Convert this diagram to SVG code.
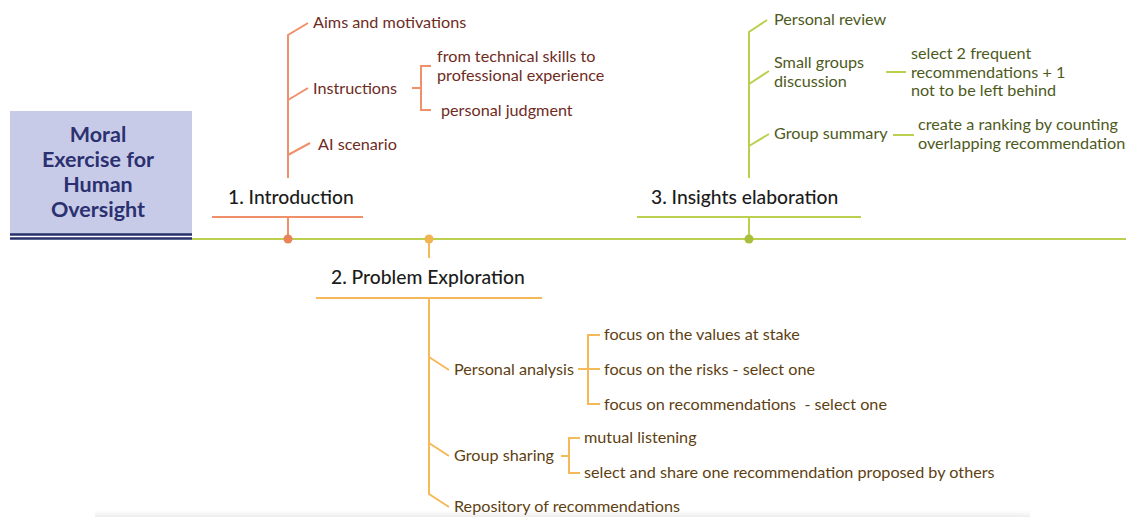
<svg xmlns="http://www.w3.org/2000/svg" width="1126" height="517" viewBox="0 0 1126 517">
<defs>
<style>
text{font-family:Lato,"Noto Sans",sans-serif;font-size:16.2px}
.h{font-size:19.3px;font-weight:500;fill:#1c1c1c}
.t1{fill:#6e2b1e}
.t2{fill:#5e3f12}
.t3{fill:#4d5a1c}
.l1{stroke:#f0906a;stroke-width:2;fill:none}
.l2{stroke:#f5b95a;stroke-width:2;fill:none}
.l3{stroke:#bccf4f;stroke-width:2;fill:none}
.title{font-size:21.5px;font-weight:700;fill:#2b3170;text-anchor:middle}
</style>
<linearGradient id="shade" x1="0" y1="0" x2="0" y2="1">
<stop offset="0" stop-color="#f4f4f4" stop-opacity="0"/>
<stop offset="1" stop-color="#ececec"/>
</linearGradient>
</defs>
<rect width="1126" height="517" fill="#ffffff"/>
<rect x="95" y="510" width="935" height="7" fill="url(#shade)"/>

<g id="connectors">
<line x1="192" y1="239" x2="1126" y2="239" class="l3"/>
<path class="l1" d="M212 217H363M288 217V239M288 178V35L308 23M288 100L308 88M288 155L310 143"/>
<path class="l1" d="M412 88H421M431 66H421V110H431"/>
<path class="l2" d="M429 239V258M316 298H542M429 298V494L449 507M429 357L449 370M429 443L449 456"/>
<path class="l2" d="M578 369H600M600 335H588V404H600"/>
<path class="l2" d="M561 456H569M580 438H569V473H580"/>
<path class="l3" d="M637 217H861M749 217V239M749 178V32L767 20M749 84L769 71M749 146L769 134"/>
<path class="l3" d="M886 72H906M893 135H914"/>
</g>

<g id="title">
<rect x="10" y="111" width="182" height="123" fill="#c8cbe8"/>
<line x1="10" y1="234.5" x2="192" y2="234.5" stroke="#27306a" stroke-width="2.5"/>
<line x1="10" y1="238.5" x2="192" y2="238.5" stroke="#27306a" stroke-width="2.5"/>
<text class="title" x="98" y="142">Moral</text>
<text class="title" x="98" y="167">Exercise for</text>
<text class="title" x="98" y="192">Human</text>
<text class="title" x="98" y="217">Oversight</text>
</g>

<g id="n1-introduction">
<circle cx="288" cy="239" r="4.5" fill="#e8845a"/>
<text class="h" x="228" y="204">1. Introduction</text>
</g>
<g id="n1a"><text class="t1" x="313" y="28">Aims and motivations</text></g>
<g id="n1b"><text class="t1" x="313" y="94">Instructions</text></g>
<g id="n1b1"><text class="t1" x="437" y="62">from technical skills to</text><text class="t1" x="437" y="81">professional experience</text></g>
<g id="n1b2"><text class="t1" x="441" y="116">personal judgment</text></g>
<g id="n1c"><text class="t1" x="318" y="150">AI scenario</text></g>

<g id="n2-problem">
<circle cx="429" cy="239" r="4.5" fill="#f0b552"/>
<text class="h" x="331" y="284">2. Problem Exploration</text>
</g>
<g id="n2a"><text class="t2" x="454" y="375">Personal analysis</text></g>
<g id="n2a1"><text class="t2" x="604" y="340">focus on the values at stake</text></g>
<g id="n2a2"><text class="t2" x="604" y="375">focus on the risks - select one</text></g>
<g id="n2a3"><text class="t2" x="604" y="410" xml:space="preserve">focus on recommendations  - select one</text></g>
<g id="n2b"><text class="t2" x="454" y="461">Group sharing</text></g>
<g id="n2b1"><text class="t2" x="584" y="443">mutual listening</text></g>
<g id="n2b2"><text class="t2" x="584" y="478">select and share one recommendation proposed by others</text></g>
<g id="n2c"><text class="t2" x="454" y="512">Repository of recommendations</text></g>

<g id="n3-insights">
<circle cx="749" cy="239" r="4.5" fill="#a9bf3c"/>
<text class="h" x="651" y="204">3. Insights elaboration</text>
</g>
<g id="n3a"><text class="t3" x="774" y="25">Personal review</text></g>
<g id="n3b"><text class="t3" x="774" y="68">Small groups</text><text class="t3" x="774" y="87">discussion</text></g>
<g id="n3b1"><text class="t3" x="911" y="59">select 2 frequent</text><text class="t3" x="911" y="78">recommendations + 1</text><text class="t3" x="911" y="96">not to be left behind</text></g>
<g id="n3c"><text class="t3" x="774" y="139">Group summary</text></g>
<g id="n3c1"><text class="t3" x="918" y="130">create a ranking by counting</text><text class="t3" x="918" y="149">overlapping recommendations</text></g>
</svg>
